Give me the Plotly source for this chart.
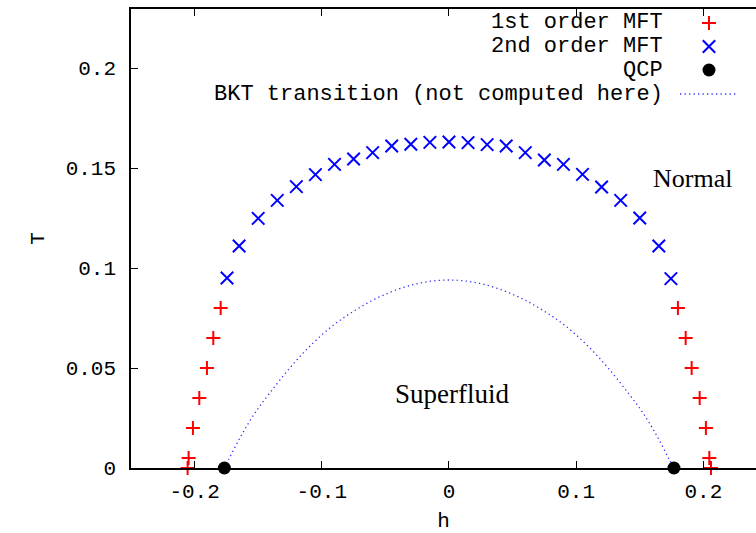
import plotly.graph_objects as go

# ---------------- data ----------------
first_h = [-0.2055, -0.2047, -0.2013, -0.1963, -0.1903, -0.1853, -0.1795,
           0.1800, 0.1861, 0.1908, 0.1971, 0.2020, 0.2047, 0.2060]
first_T = [0.0, 0.005, 0.02, 0.035, 0.05, 0.065, 0.08,
           0.08, 0.065, 0.05, 0.035, 0.02, 0.005, 0.0]

second_h = [-0.1745, -0.165, -0.15, -0.135, -0.12, -0.105, -0.09, -0.075, -0.06,
            -0.045, -0.03, -0.015, 0.0, 0.015, 0.03, 0.045, 0.06, 0.075, 0.09,
            0.105, 0.12, 0.135, 0.15, 0.165, 0.1745]
second_T = [0.095, 0.111, 0.1248, 0.1338, 0.1407, 0.1467, 0.1518, 0.1545, 0.1577,
            0.161, 0.1619, 0.1628, 0.163, 0.1627, 0.1617, 0.161, 0.1577, 0.154,
            0.1518, 0.1468, 0.1405, 0.1338, 0.125, 0.111, 0.0947]

qcp_h = [-0.1766, 0.1769]
qcp_T = [0.0, 0.0]

bkt_h = [-0.1766, -0.173, -0.1635, -0.1531, -0.1415, -0.1258, -0.110, -0.0917,
         -0.0734, -0.0524, -0.0262, 0.0, 0.0262, 0.0524, 0.0734, 0.0917, 0.110,
         0.1258, 0.1415, 0.1531, 0.1635, 0.173, 0.1769]
bkt_T = [0.0, 0.0045, 0.0160, 0.0270, 0.0370, 0.0495, 0.0605, 0.0710,
         0.0790, 0.0862, 0.0920, 0.094, 0.0920, 0.0862, 0.0790, 0.0710, 0.0605,
         0.0495, 0.0370, 0.0270, 0.0160, 0.0045, 0.0]

x_tickvals = [-0.2, -0.1, 0.0, 0.1, 0.2]
x_ticktext = ["-0.2", "-0.1", "0", "0.1", "0.2"]
y_tickvals = [0.0, 0.05, 0.1, 0.15, 0.2]
y_ticktext = ["0", "0.05", "0.1", "0.15", "0.2"]

legend_labels = ["1st order MFT", "2nd order MFT", "QCP", "BKT transition (not computed here)"]

MONO = "Liberation Mono"
SERIF = "Liberation Serif"
RED = "#ff0000"
BLUE = "#0000ff"
DOT_BLUE = "#3333ff"

fig = go.Figure()

fig.add_trace(go.Scatter(x=bkt_h, y=bkt_T, mode="lines", line_shape="spline",
                         line=dict(color=DOT_BLUE, width=1.3, dash="1.3px,3.2px"),
                         name=legend_labels[3], cliponaxis=False))
fig.add_trace(go.Scatter(x=first_h, y=first_T, mode="markers", name=legend_labels[0],
                         marker=dict(symbol="cross-thin", size=10,
                                     line=dict(color=RED, width=2)),
                         cliponaxis=False))
fig.add_trace(go.Scatter(x=second_h, y=second_T, mode="markers", name=legend_labels[1],
                         marker=dict(symbol="x-thin", size=12.5,
                                     line=dict(color=BLUE, width=2)),
                         cliponaxis=False))
fig.add_trace(go.Scatter(x=qcp_h, y=qcp_T, mode="markers", name=legend_labels[2],
                         marker=dict(symbol="circle", size=13, color="black"),
                         cliponaxis=False))

# ---------------- gnuplot-style key (text right, sample on the right) ----------------
row_y = [0.9695, 0.9183, 0.8671, 0.8148]
text_x = 0.8544
sym_x = 0.9248
annotations = []
for lbl, yy in zip(legend_labels, row_y):
    annotations.append(dict(xref="paper", yref="paper", x=text_x, y=yy, text=lbl,
                            xanchor="right", yanchor="middle", align="right",
                            showarrow=False, font=dict(family=MONO, size=22, color="black")))

def seg(yy, x0, x1, y0, y1, color):
    return dict(type="line", xref="paper", yref="paper", xsizemode="pixel", ysizemode="pixel",
                xanchor=sym_x, yanchor=yy, x0=x0, x1=x1, y0=y0, y1=y1,
                line=dict(color=color, width=2))

shapes = [
    seg(row_y[0], -7, 7, 0, 0, RED),
    seg(row_y[0], 0, 0, -7, 7, RED),
    seg(row_y[1], -6.2, 6.2, -6.2, 6.2, BLUE),
    seg(row_y[1], -6.2, 6.2, 6.2, -6.2, BLUE),
    dict(type="circle", xref="paper", yref="paper", xsizemode="pixel", ysizemode="pixel",
         xanchor=sym_x, yanchor=row_y[2], x0=-6.5, x1=6.5, y0=-6.5, y1=6.5,
         fillcolor="black", line=dict(color="black", width=0)),
    dict(type="line", xref="paper", yref="paper", x0=0.8784, x1=0.9696,
         y0=row_y[3], y1=row_y[3],
         line=dict(color=DOT_BLUE, width=1.3, dash="1.3px,3.2px")),
]

# region labels
annotations.append(dict(x=0.1916, y=0.1448, xref="x", yref="y", text="Normal", showarrow=False,
                        xanchor="center", yanchor="middle",
                        font=dict(family=SERIF, size=26, color="black")))
annotations.append(dict(x=0.002, y=0.037, xref="x", yref="y", text="Superfluid", showarrow=False,
                        xanchor="center", yanchor="middle",
                        font=dict(family=SERIF, size=27, color="black")))

fig.update_layout(
    width=756, height=533,
    margin=dict(l=131, r=0, t=9, b=65, autoexpand=False),
    paper_bgcolor="white", plot_bgcolor="white",
    showlegend=False,
    annotations=annotations,
    shapes=shapes,
    xaxis=dict(range=[-0.25, 0.2414], showgrid=False, zeroline=False,
               showline=True, linecolor="black", linewidth=1.5, mirror="ticks",
               ticks="inside", ticklen=7, tickwidth=1.2, tickcolor="black",
               tickvals=x_tickvals, ticktext=x_ticktext, ticklabelstandoff=3,
               tickfont=dict(family=MONO, size=21, color="black"),
               title=dict(text="h", standoff=18, font=dict(family=MONO, size=21, color="black"))),
    yaxis=dict(range=[0, 0.2295], showgrid=False, zeroline=False,
               showline=True, linecolor="black", linewidth=1.5, mirror=False,
               ticks="inside", ticklen=7, tickwidth=1.2, tickcolor="black",
               tickvals=y_tickvals, ticktext=y_ticktext, ticklabelstandoff=9,
               tickfont=dict(family=MONO, size=21, color="black"),
               title=dict(text="T", standoff=15, font=dict(family=MONO, size=21, color="black"))),
)

fig.write_html("out.html")
